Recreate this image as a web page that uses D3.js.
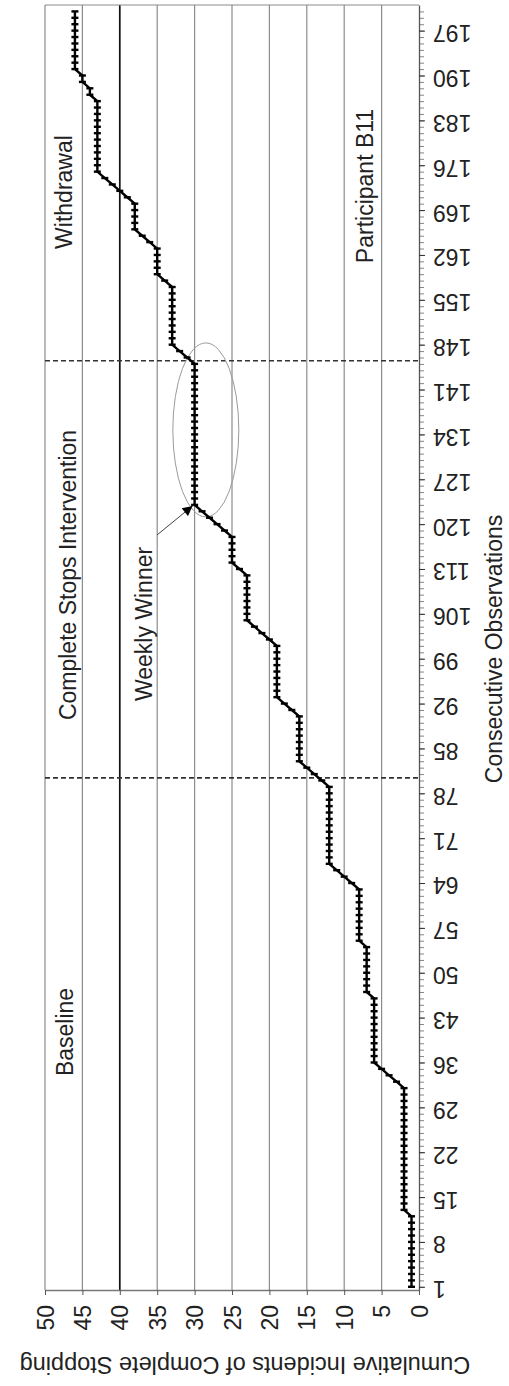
<!DOCTYPE html>
<html><head><meta charset="utf-8">
<script src="https://cdn.jsdelivr.net/npm/d3@7"></script>
<style>
body{margin:0;background:#fff}
svg{display:block;background:#fff}
text{font-family:"Liberation Sans",Arial,Helvetica,sans-serif;fill:#222}
</style>
</head><body>
<svg id="chart" width="509" height="1386"></svg>
<script>
// ---- data ----
const observations = d3.range(1, 201);
const cumulativeStops = [
  1,1,1,1,1,1,1,1,1,1,1,1,
  2,2,2,2,2,2,2,2,2,2,2,2,2,2,2,2,2,2,2,2,
  3,4,5,
  6,6,6,6,6,6,6,6,6,6,6,
  7,7,7,7,7,7,7,7,
  8,8,8,8,8,8,8,8,8,
  9,10,11,
  12,12,12,12,12,12,12,12,12,12,12,12,12,
  13,14,15,
  16,16,16,16,16,16,16,16,
  17,18,
  19,19,19,19,19,19,19,19,19,
  20,21,22,
  23,23,23,23,23,23,23,23,
  24,
  25,25,25,25,25,
  26,27,28,29,
  30,30,30,30,30,30,30,30,30,30,30,30,30,30,30,30,30,30,30,30,30,30,30,
  31,32,
  33,33,33,33,33,33,33,33,33,33,
  34,
  35,35,35,35,35,
  36,37,
  38,38,38,38,38,
  39,40,41,42,
  43,43,43,43,43,43,43,43,43,43,43,43,
  44,44,45,45,
  46,46,46,46,46,46,46,46,46,46
];
const obsTickLabels = [1,8,15,22,29,36,43,50,57,64,71,78,85,92,99,106,113,120,127,134,141,148,155,162,169,176,183,190,197];
const valueTicks = [0,5,10,15,20,25,30,35,40,45,50];
const goalLine = [40];
const phaseBreaks = [80.4, 145.5];
const phaseNames = ["Baseline", "Complete Stops Intervention", "Withdrawal"];
const participant = "Participant B11";
const annotation = "Weekly Winner";
const annotatedObs = [123, 134.7];   // start of plateau, centre of circled plateau
const xTitle = "Consecutive Observations";
const yTitle = "Cumulative Incidents of Complete Stopping";

// ---- chart (rotated: observations run bottom->top, values right->left) ----
const svg = d3.select("#chart");
const x = d3.scaleLinear().domain([0, 50]).range([419, 45]);
const y = d3.scaleLinear().domain([0.5, 201]).range([1290, 5]);
const pts = observations.map((o, i) => ({o, v: cumulativeStops[i]}));

// gridlines
svg.append("g").selectAll("line")
  .data(valueTicks.filter(v => v > 0))
  .join("line")
  .attr("x1", d => x(d)).attr("x2", d => x(d))
  .attr("y1", y(201)).attr("y2", y(0.5))
  .attr("stroke", d => goalLine.includes(d) ? "#111" : "#8c8c8c")
  .attr("stroke-width", d => goalLine.includes(d) ? 1.7 : 1.2);

// top border
svg.append("line")
  .attr("x1", x(50)).attr("x2", x(0))
  .attr("y1", y(201)).attr("y2", y(201))
  .attr("stroke", "#8c8c8c").attr("stroke-width", 1.2);

// phase change lines
svg.append("g").selectAll("line")
  .data(phaseBreaks).join("line")
  .attr("x1", x(50)).attr("x2", x(0) + 2)
  .attr("y1", d => y(d)).attr("y2", d => y(d))
  .attr("stroke", "#333").attr("stroke-width", 1.6)
  .attr("stroke-dasharray", "5,3");

// value axis (bottom)
const vAxis = svg.append("g").attr("transform", `translate(0,${y(0.5)})`)
  .call(d3.axisBottom(x).tickValues(valueTicks).tickSize(5).tickSizeOuter(0));
vAxis.select(".domain").attr("stroke", "#777").attr("stroke-width", 1.3);
vAxis.selectAll(".tick line").attr("stroke", "#555");
vAxis.selectAll(".tick text")
  .attr("x", 0).attr("y", 0).attr("dy", "0.35em")
  .attr("text-anchor", "end")
  .attr("transform", "translate(0,15) rotate(-90)")
  .style("font-size", "23px").style("font-family", "Liberation Sans, Arial, sans-serif")
  .attr("fill", "#222");

// observation axis (right) minor ticks
const minor = svg.append("g").attr("transform", `translate(${x(0)},0)`)
  .call(d3.axisRight(y).tickValues(observations).tickSize(5).tickSizeOuter(0).tickFormat(""));
minor.select(".domain").remove();
minor.selectAll(".tick line").attr("stroke", "#777").attr("stroke-width", 0.9);

// observation axis major
const oAxis = svg.append("g").attr("transform", `translate(${x(0)},0)`)
  .call(d3.axisRight(y).tickValues(obsTickLabels).tickSize(6).tickSizeOuter(0));
oAxis.select(".domain").attr("stroke", "#555").attr("stroke-width", 1.3);
oAxis.selectAll(".tick line").attr("stroke", "#333");
oAxis.selectAll(".tick text")
  .attr("x", 0).attr("y", 0).attr("dy", "0.35em")
  .attr("text-anchor", "end")
  .attr("transform", "translate(14,2) rotate(180)")
  .style("font-size", "23px").style("font-family", "Liberation Sans, Arial, sans-serif")
  .attr("fill", "#222");

// ellipse around plateau
svg.append("ellipse")
  .attr("cx", x(28.5)).attr("cy", y(annotatedObs[1]))
  .attr("rx", 33).attr("ry", 87)
  .attr("fill", "none").attr("stroke", "#9a9a9a").attr("stroke-width", 1);

// data line
svg.append("path").datum(pts)
  .attr("fill", "none").attr("stroke", "#000").attr("stroke-width", 2.4)
  .attr("stroke-linejoin", "round")
  .attr("d", d3.line().x(d => x(d.v)).y(d => y(d.o)));
svg.append("g").selectAll("rect").data(pts).join("rect")
  .attr("x", d => x(d.v) - 3.5).attr("y", d => y(d.o) - 1.2)
  .attr("width", 7).attr("height", 2.4).attr("fill", "#000");

// arrow
svg.append("defs").append("marker")
  .attr("id", "ah").attr("viewBox", "0 0 10 10")
  .attr("refX", 10).attr("refY", 5)
  .attr("markerWidth", 12).attr("markerHeight", 10)
  .attr("markerUnits", "userSpaceOnUse")
  .attr("orient", "auto")
  .append("path").attr("d", "M0,0 L10,5 L0,10 Z").attr("fill", "#000");
svg.append("line")
  .attr("x1", 157).attr("y1", 535)
  .attr("x2", x(30) - 2).attr("y2", y(annotatedObs[0]) + 1)
  .attr("stroke", "#444").attr("stroke-width", 1)
  .attr("marker-end", "url(#ah)");

// rotated labels
function vlabel(txt, bx, cy, size) {
  svg.append("text")
    .attr("transform", `translate(${bx},${cy}) rotate(-90)`)
    .attr("text-anchor", "middle")
    .style("font-size", size + "px")
    .text(txt);
}
vlabel(phaseNames[0], 73, 1032, 23);
vlabel(phaseNames[1], 76, 575, 23);
vlabel(phaseNames[2], 72, 192, 23);
vlabel(annotation, 152, 624, 23);
vlabel(participant, 373, 186, 23);
vlabel(xTitle, 502, 649, 23);

// y title (upside down)
svg.append("text")
  .attr("transform", "translate(245,1357) rotate(180)")
  .attr("text-anchor", "middle")
  .style("font-size", "23.5px")
  .text(yTitle);
</script>
</body></html>
